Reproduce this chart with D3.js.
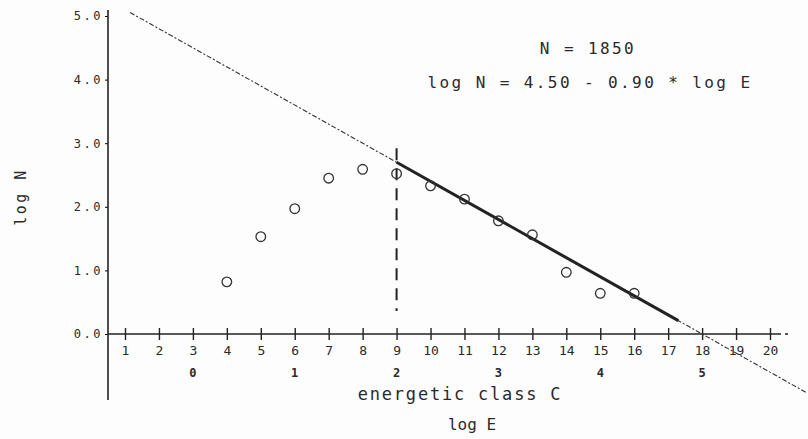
<!DOCTYPE html>
<meta charset="utf-8">
<html>

<head>
  <title>log N vs energetic class</title>
  <script src="https://d3js.org/d3.v7.min.js"></script>
  <style>
    body { margin: 0; background: #fdfdfd; }
    text { font-family: "DejaVu Sans Mono", "Liberation Mono", monospace; fill: #2a2a2a; }
  </style>
</head>

<body>
  <div id="chart"></div>
</body>
<script>

  // energetic class (x) and observed log N (y)
  var classes = [4, 5, 6, 7, 8, 9, 10, 11, 12, 13, 14, 15, 16];
  var logN = [0.82, 1.53, 1.97, 2.45, 2.59, 2.52, 2.33, 2.12, 1.78, 1.56, 0.97, 0.64, 0.64];

  var xTicks = d3.range(1, 21);
  var yTicks = [0, 1, 2, 3, 4, 5];
  var logETicks = [3, 6, 9, 12, 15, 18];
  var logELabels = ["0", "1", "2", "3", "4", "5"];

  // fit: log N = 4.50 - 0.90 * log E, with log E = (class - 3) / 3
  var fitA = 4.50, fitB = 0.90;
  var fitDashed = [1.15, 21.1];
  var fitSolid = [9, 17.3];
  var cutClass = 9;
  var cutRange = [0.36, 2.92];

  var width = 808, height = 439;

  var svg = d3.select("#chart")
    .append("svg")
    .attr("width", width)
    .attr("height", height);

  var x = d3.scaleLinear().domain([1, 20]).range([125, 770]);
  var y = d3.scaleLinear().domain([0, 5]).range([334, 16]);

  function fit(c) { return fitA - fitB * (c - 3) / 3; }

  // y axis
  var yAxis = svg.append("g")
    .attr("transform", "translate(108,0)")
    .call(d3.axisLeft(y).tickValues(yTicks).tickSize(3).tickFormat(d3.format(".1f")));
  yAxis.select(".domain").remove();
  yAxis.selectAll("text")
    .attr("x", -5)
    .style("font-size", "12px")
    .style("letter-spacing", "2.5px")
    .attr("fill", "#555");
  svg.append("line")
    .attr("x1", 108).attr("x2", 108)
    .attr("y1", 10).attr("y2", 400)
    .attr("stroke", "#222").attr("stroke-width", 1.6);

  // x axis with crossing ticks
  var xAxis = svg.append("g")
    .attr("transform", "translate(0," + y(0) + ")")
    .call(d3.axisBottom(x).tickValues(xTicks).tickSize(0).tickPadding(12));
  xAxis.select(".domain").remove();
  xAxis.selectAll(".tick line").attr("y1", -6).attr("y2", 6).attr("stroke", "#222").attr("stroke-width", 1.4);
  xAxis.selectAll("text").style("font-size", "13px").attr("fill", "#333");
  svg.append("line")
    .attr("x1", 108).attr("x2", 778)
    .attr("y1", y(0)).attr("y2", y(0))
    .attr("stroke", "#222").attr("stroke-width", 1.3);
  svg.append("line")
    .attr("x1", 778).attr("x2", 792)
    .attr("y1", y(0)).attr("y2", y(0))
    .attr("stroke", "#222").attr("stroke-width", 1.3)
    .attr("stroke-dasharray", "3,4");

  // log E labels under classes
  svg.append("g").selectAll("text")
    .data(logETicks)
    .enter()
    .append("text")
    .attr("x", function (d) { return x(d); })
    .attr("y", 377)
    .attr("text-anchor", "middle")
    .style("font-size", "12px")
    .style("font-weight", "bold")
    .text(function (d, i) { return logELabels[i]; });

  // regression line (thin dashed, then thick solid part)
  svg.append("line")
    .attr("x1", x(fitDashed[0])).attr("y1", y(fit(fitDashed[0])))
    .attr("x2", x(fitDashed[1])).attr("y2", y(fit(fitDashed[1])))
    .attr("stroke", "#333").attr("stroke-width", 1.1)
    .attr("stroke-dasharray", "5,2,2,2");
  svg.append("line")
    .attr("x1", x(fitSolid[0])).attr("y1", y(fit(fitSolid[0])))
    .attr("x2", x(fitSolid[1])).attr("y2", y(fit(fitSolid[1])))
    .attr("stroke", "#222").attr("stroke-width", 3);

  // vertical cut at class 9
  svg.append("line")
    .attr("x1", x(cutClass)).attr("x2", x(cutClass))
    .attr("y1", y(cutRange[1])).attr("y2", y(cutRange[0]))
    .attr("stroke", "#222").attr("stroke-width", 2)
    .attr("stroke-dasharray", "12,8");

  // observations
  svg.selectAll("circle.obs")
    .data(classes)
    .enter()
    .append("circle")
    .attr("class", "obs")
    .attr("cx", function (d) { return x(d); })
    .attr("cy", function (d, i) { return y(logN[i]); })
    .attr("r", 4.8)
    .attr("fill", "none")
    .attr("stroke", "#333")
    .attr("stroke-width", 1.3);

  // equation text
  svg.append("text")
    .attr("x", 588).attr("y", 54)
    .attr("text-anchor", "middle")
    .style("font-size", "16px")
    .style("letter-spacing", "2.4px")
    .text("N = 1850");
  svg.append("text")
    .attr("x", 590).attr("y", 88)
    .attr("text-anchor", "middle")
    .style("font-size", "16px")
    .style("letter-spacing", "2.4px")
    .text("log N = 4.50 - 0.90 * log E");

  // axis titles
  svg.append("text")
    .attr("transform", "translate(26,197) rotate(-90)")
    .attr("text-anchor", "middle")
    .style("font-size", "15px")
    .style("letter-spacing", "2.5px")
    .text("log N");
  svg.append("text")
    .attr("x", 460).attr("y", 400)
    .attr("text-anchor", "middle")
    .style("font-size", "17px")
    .style("letter-spacing", "1.8px")
    .text("energetic class C");
  svg.append("text")
    .attr("x", 472).attr("y", 430)
    .attr("text-anchor", "middle")
    .style("font-size", "16px")
    .text("log E");

</script>

</html>
